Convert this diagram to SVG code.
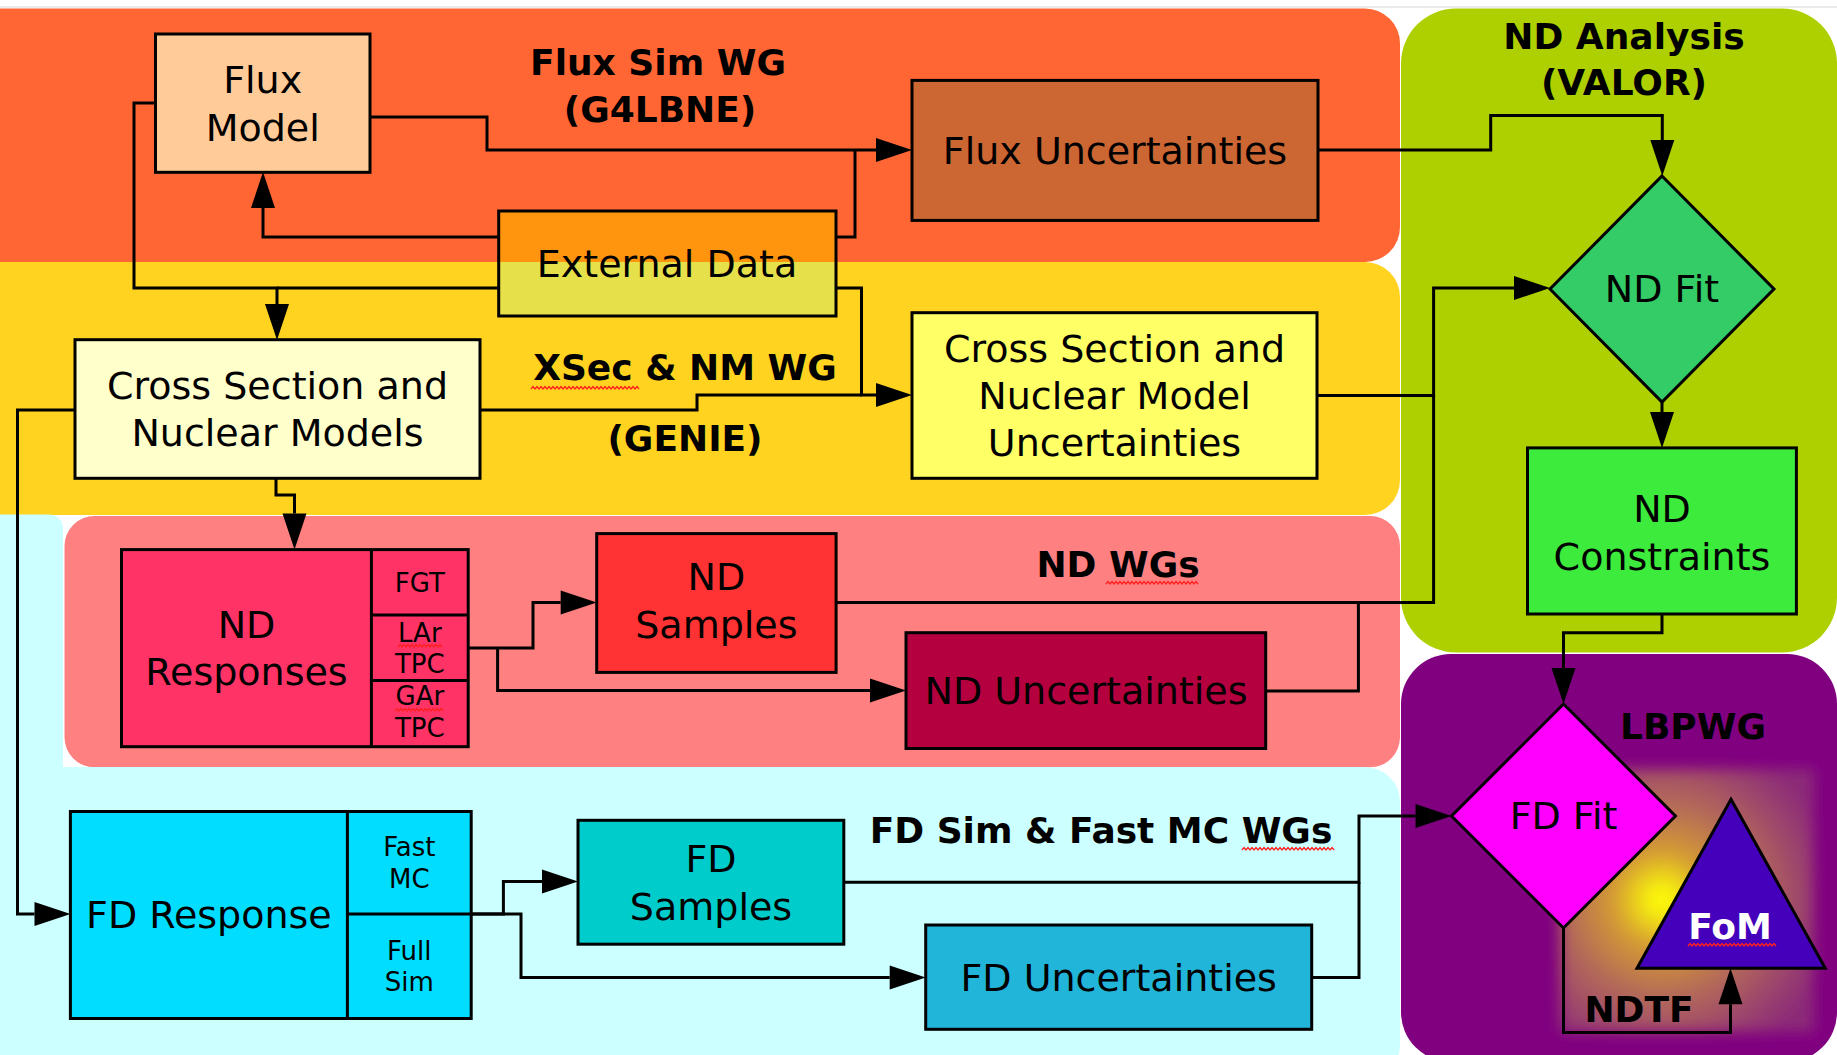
<svg xmlns="http://www.w3.org/2000/svg" width="1837" height="1055" viewBox="0 0 1837 1055">
<style>
.box{stroke:#000;stroke-width:3}
.c{fill:none;stroke:#000;stroke-width:3}
.sq{fill:none;stroke:#ff2020;stroke-width:1.3}
text{font-family:"DejaVu Sans","Liberation Sans",sans-serif;font-size:38px;text-anchor:middle;fill:#000}
.b{font-weight:bold;font-size:36px}
.s{font-size:26px}
</style>
<defs>
<marker id="ah" markerUnits="userSpaceOnUse" markerWidth="36" markerHeight="24" refX="0" refY="12" orient="auto" overflow="visible"><path d="M0,0 L36,12 L0,24 z" fill="#000"/></marker>
<radialGradient id="glow" gradientUnits="userSpaceOnUse" cx="1662" cy="900" r="175">
<stop offset="0" stop-color="#ffff00"/>
<stop offset="0.08" stop-color="#f6ec10"/>
<stop offset="0.28" stop-color="#d49a34"/>
<stop offset="0.55" stop-color="#b46a58"/>
<stop offset="0.85" stop-color="#983e70"/>
<stop offset="1" stop-color="#8c2a78"/>
</radialGradient>
<filter id="soft" x="-0.1" y="-0.1" width="1.2" height="1.2"><feGaussianBlur stdDeviation="7"/></filter>
</defs>
<rect width="1837" height="1055" fill="#fff"/>
<line x1="0" y1="7" x2="1837" y2="7" stroke="#e4e4e4" stroke-width="1.5"/>
<g id="bands">
<rect x="-50" y="8.5" width="1450" height="253.5" rx="35" fill="#ff6633"/>
<rect x="-50" y="262" width="1450" height="253" rx="35" fill="#ffd320"/>
<rect x="-50" y="514.5" width="113" height="280" rx="14" fill="#ccffff"/>
<rect x="64.5" y="516" width="1335.5" height="251.3" rx="30" fill="#ff8080"/>
<rect x="-50" y="767" width="1450" height="313" rx="35" fill="#ccffff"/>
<rect x="1401" y="8.5" width="436" height="644" rx="55" fill="#afd000"/>
<rect x="1401" y="654" width="436" height="408" rx="50" fill="#800080"/>
<rect x="1560" y="769" width="254" height="263" fill="url(#glow)" filter="url(#soft)"/>
</g>
<g id="labels">
<text class="b" x="658" y="75">Flux Sim WG</text>
<text class="b" x="660" y="122">(G4LBNE)</text>
<text class="b" x="685" y="380">XSec &amp; NM WG</text>
<text class="b" x="685" y="451">(GENIE)</text>
<text class="b" x="1624" y="49">ND Analysis</text>
<text class="b" x="1624" y="95">(VALOR)</text>
<text class="b" x="1118" y="577">ND WGs</text>
<text class="b" x="1101" y="843">FD Sim &amp; Fast MC WGs</text>
<text class="b" x="1693" y="739">LBPWG</text>
<text class="b" x="1639" y="1022">NDTF</text>
</g>
<g id="squiggles">
<path class="sq" d="M531,389l2,-2.5l2,2.5l2,-2.5l2,2.5l2,-2.5l2,2.5l2,-2.5l2,2.5l2,-2.5l2,2.5l2,-2.5l2,2.5l2,-2.5l2,2.5l2,-2.5l2,2.5l2,-2.5l2,2.5l2,-2.5l2,2.5l2,-2.5l2,2.5l2,-2.5l2,2.5l2,-2.5l2,2.5l2,-2.5l2,2.5l2,-2.5l2,2.5l2,-2.5l2,2.5l2,-2.5l2,2.5l2,-2.5l2,2.5l2,-2.5l2,2.5l2,-2.5l2,2.5l2,-2.5l2,2.5l2,-2.5l2,2.5l2,-2.5l2,2.5l2,-2.5l2,2.5l2,-2.5l2,2.5l2,-2.5l2,2.5l2,-2.5l2,2.5"/>
<path class="sq" d="M1106,584l2,-2.5l2,2.5l2,-2.5l2,2.5l2,-2.5l2,2.5l2,-2.5l2,2.5l2,-2.5l2,2.5l2,-2.5l2,2.5l2,-2.5l2,2.5l2,-2.5l2,2.5l2,-2.5l2,2.5l2,-2.5l2,2.5l2,-2.5l2,2.5l2,-2.5l2,2.5l2,-2.5l2,2.5l2,-2.5l2,2.5l2,-2.5l2,2.5l2,-2.5l2,2.5l2,-2.5l2,2.5l2,-2.5l2,2.5l2,-2.5l2,2.5l2,-2.5l2,2.5l2,-2.5l2,2.5l2,-2.5l2,2.5l2,-2.5l2,2.5"/>
<path class="sq" d="M1242,850l2,-2.5l2,2.5l2,-2.5l2,2.5l2,-2.5l2,2.5l2,-2.5l2,2.5l2,-2.5l2,2.5l2,-2.5l2,2.5l2,-2.5l2,2.5l2,-2.5l2,2.5l2,-2.5l2,2.5l2,-2.5l2,2.5l2,-2.5l2,2.5l2,-2.5l2,2.5l2,-2.5l2,2.5l2,-2.5l2,2.5l2,-2.5l2,2.5l2,-2.5l2,2.5l2,-2.5l2,2.5l2,-2.5l2,2.5l2,-2.5l2,2.5l2,-2.5l2,2.5l2,-2.5l2,2.5l2,-2.5l2,2.5l2,-2.5l2,2.5"/>
</g>
<g id="connectors">
<path class="c" d="M370,117 H487 V150 H876" marker-end="url(#ah)"/>
<path class="c" d="M836,237 H855 V150"/>
<path class="c" d="M499,237 H263 V208" marker-end="url(#ah)"/>
<path class="c" d="M155.5,103 H134 V288 H277 V304" marker-end="url(#ah)"/>
<path class="c" d="M499,288 H277"/>
<path class="c" d="M836,288 H861.5 V395 H876" marker-end="url(#ah)"/>
<path class="c" d="M480,410 H697 V395 H861.5"/>
<path class="c" d="M75,410 H17.5 V914 H34.5" marker-end="url(#ah)"/>
<path class="c" d="M276,478 V495 H294.5 V513.6" marker-end="url(#ah)"/>
<path class="c" d="M468,648 H533 V602.6 H560.7" marker-end="url(#ah)"/>
<path class="c" d="M497.6,648 V690.5 H870" marker-end="url(#ah)"/>
<path class="c" d="M1317,395.5 H1433.6 V288 H1514" marker-end="url(#ah)"/>
<path class="c" d="M836,602.6 H1433.6 V395.5"/>
<path class="c" d="M1265.7,691 H1358.4 V602.6"/>
<path class="c" d="M1318,150 H1490.7 V115.5 H1662.3 V140" marker-end="url(#ah)"/>
<path class="c" d="M1662,402 V412" marker-end="url(#ah)"/>
<path class="c" d="M1662,614 V632.7 H1563.5 V668" marker-end="url(#ah)"/>
<path class="c" d="M471,914 H503.4 V881.6 H542" marker-end="url(#ah)"/>
<path class="c" d="M471,914 H521 V977.5 H889.7" marker-end="url(#ah)"/>
<path class="c" d="M843.8,882.3 H1359 V816 H1415.5" marker-end="url(#ah)"/>
<path class="c" d="M1311.7,977.5 H1359 V882.3"/>
<path class="c" d="M1563.5,928 V1032.5 H1730.5 V1004.3" marker-end="url(#ah)"/>
</g>
<g id="flux-model">
<rect class="box" x="155.5" y="34" width="214.5" height="138.3" fill="#ffcc99"/>
<text x="262.7" y="92.7">Flux</text>
<text x="262.7" y="140.7">Model</text>
</g>
<g id="external-data">
<rect x="498.7" y="211" width="337.3" height="51" fill="#ff950e"/>
<rect x="498.7" y="262" width="337.3" height="54" fill="#e6e04a"/>
<rect class="box" x="498.7" y="211" width="337.3" height="105" fill="none"/>
<text x="667" y="277">External Data</text>
</g>
<g id="flux-uncertainties">
<rect class="box" x="912" y="80.4" width="406" height="140" fill="#cc6633"/>
<text x="1115" y="164">Flux Uncertainties</text>
</g>
<g id="cross-section">
<rect class="box" x="75" y="339.7" width="405" height="138.6" fill="#ffffcc"/>
<text x="277.5" y="399">Cross Section and</text>
<text x="277.5" y="446">Nuclear Models</text>
</g>
<g id="xsec-uncertainties">
<rect class="box" x="912" y="312.7" width="405" height="165.6" fill="#ffff66"/>
<text x="1114.5" y="361.7">Cross Section and</text>
<text x="1114.5" y="409">Nuclear Model</text>
<text x="1114.5" y="456.3">Uncertainties</text>
</g>
<g id="nd-fit">
<polygon class="box" points="1662,176 1774,289 1662,402 1550,289" fill="#33cc66"/>
<text x="1662" y="302">ND Fit</text>
</g>
<g id="nd-constraints">
<rect class="box" x="1527.5" y="447.9" width="268.9" height="166.1" fill="#3deb3d"/>
<text x="1662" y="522">ND</text>
<text x="1662" y="569.5">Constraints</text>
</g>
<g id="nd-responses">
<rect class="box" x="121.5" y="549.6" width="346.7" height="197.1" fill="#ff3366"/>
<path class="c" d="M371.4,549.6 V746.7 M371.4,615 H468.2 M371.4,680.5 H468.2"/>
<text x="246.5" y="638.3">ND</text>
<text x="246.5" y="685">Responses</text>
<text class="s" x="419.8" y="592">FGT</text>
<text class="s" x="419.8" y="641.6">LAr</text>
<text class="s" x="419.8" y="673.4">TPC</text>
<text class="s" x="419.8" y="705.3">GAr</text>
<text class="s" x="419.8" y="736.5">TPC</text>
<path class="sq" d="M398,647l2,-2.5l2,2.5l2,-2.5l2,2.5l2,-2.5l2,2.5l2,-2.5l2,2.5l2,-2.5l2,2.5l2,-2.5l2,2.5l2,-2.5l2,2.5l2,-2.5l2,2.5l2,-2.5l2,2.5l2,-2.5l2,2.5l2,-2.5l2,2.5"/>
<path class="sq" d="M395,711l2,-2.5l2,2.5l2,-2.5l2,2.5l2,-2.5l2,2.5l2,-2.5l2,2.5l2,-2.5l2,2.5l2,-2.5l2,2.5l2,-2.5l2,2.5l2,-2.5l2,2.5l2,-2.5l2,2.5l2,-2.5l2,2.5l2,-2.5l2,2.5l2,-2.5l2,2.5"/>
</g>
<g id="nd-samples">
<rect class="box" x="596.7" y="533.6" width="239.4" height="138.8" fill="#ff3333"/>
<text x="716.4" y="590.3">ND</text>
<text x="716.4" y="638">Samples</text>
</g>
<g id="nd-uncertainties">
<rect class="box" x="906" y="632.7" width="359.7" height="115.8" fill="#b4003f"/>
<text x="1086" y="704">ND Uncertainties</text>
</g>
<g id="fd-response">
<rect class="box" x="70.4" y="811.5" width="400.8" height="207" fill="#00ddff"/>
<path class="c" d="M347.4,811.5 V1018.5 M347.4,914 H471.2"/>
<text x="208.9" y="927.5">FD Response</text>
<text class="s" x="409.3" y="855.8">Fast</text>
<text class="s" x="409.3" y="887.6">MC</text>
<text class="s" x="409.3" y="959.5">Full</text>
<text class="s" x="409.3" y="991.3">Sim</text>
</g>
<g id="fd-samples">
<rect class="box" x="578" y="820.3" width="265.8" height="123.9" fill="#00cccc"/>
<text x="711" y="871.7">FD</text>
<text x="711" y="919.5">Samples</text>
</g>
<g id="fd-uncertainties">
<rect class="box" x="925.7" y="925" width="386" height="104.3" fill="#22b5da"/>
<text x="1118.7" y="990.7">FD Uncertainties</text>
</g>
<g id="fd-fit">
<polygon class="box" points="1563.5,704 1675.5,816 1563.5,928 1451.5,816" fill="#ff00ff"/>
<text x="1563.5" y="829.3">FD Fit</text>
</g>
<g id="fom">
<polygon class="box" points="1731,799.3 1825.3,968.3 1637,968.3" fill="#4400bb"/>
<text class="b" x="1730" y="939.3" style="fill:#fff">FoM</text>
<path class="sq" d="M1688,946l2,-2.5l2,2.5l2,-2.5l2,2.5l2,-2.5l2,2.5l2,-2.5l2,2.5l2,-2.5l2,2.5l2,-2.5l2,2.5l2,-2.5l2,2.5l2,-2.5l2,2.5l2,-2.5l2,2.5l2,-2.5l2,2.5l2,-2.5l2,2.5l2,-2.5l2,2.5l2,-2.5l2,2.5l2,-2.5l2,2.5l2,-2.5l2,2.5l2,-2.5l2,2.5l2,-2.5l2,2.5l2,-2.5l2,2.5l2,-2.5l2,2.5l2,-2.5l2,2.5l2,-2.5l2,2.5l2,-2.5l2,2.5"/>
</g>
</svg>
